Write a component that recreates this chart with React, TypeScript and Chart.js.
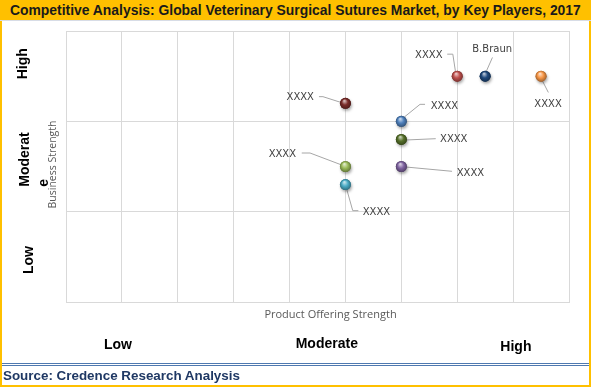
import React, { useEffect, useRef } from 'react';
import { Chart, registerables } from 'chart.js';

Chart.register(...registerables);

const TITLE = 'Competitive Analysis: Global Veterinary Surgical Sutures Market, by Key Players, 2017';
const SOURCE = 'Source: Credence Research Analysis';
const X_AXIS_TITLE = 'Product Offering Strength';
const Y_AXIS_TITLE = 'Business Strength';

const companies = ['XXXX', 'B.Braun', 'XXXX', 'XXXX', 'XXXX', 'XXXX', 'XXXX', 'XXXX', 'XXXX'];
const productOfferingStrength = [7, 7.5, 8.5, 5, 6, 6, 6, 5, 5];
const businessStrength = [2.5, 2.5, 2.5, 2.2, 2.0, 1.8, 1.5, 1.5, 1.3];
const pointColors = ['#c0504d', '#1f497d', '#f79646', '#7b2c2a', '#4f81bd', '#56702a', '#8064a2', '#9bbb59', '#4bacc6'];

const xLevelLabels = ['Low', 'Moderate', 'High'];
const yLevelLines = [['Low'], ['Moderat', 'e'], ['High']];

const X_MIN = 0, X_MAX = 9, Y_MIN = 0, Y_MAX = 3;

// label placement (pixel offsets relative to each point) and leader paths
type LabelLayout = { align: CanvasTextAlign; dx: number; dy: number; path: number[][] };
const labelLayout: LabelLayout[] = [
  { align: 'right', dx: -14.7, dy: -21, path: [[-1.7, -4.3], [-4.4, -22], [-10, -22]] },
  { align: 'center', dx: 7, dy: -27, path: [[1, -4.5], [7.3, -18.7]] },
  { align: 'center', dx: 7, dy: 28, path: [[1, 4], [7.3, 16.3]] },
  { align: 'right', dx: -31.5, dy: -5.6, path: [[-5, -1], [-22.5, -6.6], [-26.5, -6.6]] },
  { align: 'left', dx: 29.4, dy: -15.3, path: [[2, -3.5], [18.7, -17], [23.7, -17]] },
  { align: 'left', dx: 38.7, dy: 0, path: [[4.5, 0.6], [34.4, -0.7]] },
  { align: 'left', dx: 55.4, dy: 6.8, path: [[4.5, 0.5], [50.7, 4.8]] },
  { align: 'right', dx: -49.4, dy: -12.5, path: [[-5, -2], [-35.4, -13.5], [-43.7, -13.5]] },
  { align: 'left', dx: 17.3, dy: 27.7, path: [[1.5, 5.5], [7.3, 26.1], [12.9, 26.1]] },
];

function mix(hex: string, target: number, amt: number) {
  const n = parseInt(hex.slice(1), 16);
  const r = (n >> 16) & 255, g = (n >> 8) & 255, b = n & 255;
  const f = (c: number) => Math.round(c + (target - c) * amt);
  return `rgb(${f(r)},${f(g)},${f(b)})`;
}

const decorPlugin = {
  id: 'decor',
  beforeDatasetsDraw(chart: any) {
    const ctx = chart.ctx as CanvasRenderingContext2D;
    const meta = chart.getDatasetMeta(0);
    ctx.save();
    ctx.strokeStyle = '#a6a6a6';
    ctx.lineWidth = 1;
    meta.data.forEach((el: any, i: number) => {
      const lay = labelLayout[i];
      if (!lay) return;
      ctx.beginPath();
      lay.path.forEach((p, k) => {
        const px = el.x + p[0], py = el.y + p[1];
        if (k === 0) ctx.moveTo(px, py); else ctx.lineTo(px, py);
      });
      ctx.stroke();
    });
    ctx.restore();
  },
  afterDatasetsDraw(chart: any) {
    const ctx = chart.ctx as CanvasRenderingContext2D;
    const meta = chart.getDatasetMeta(0);
    meta.data.forEach((el: any, i: number) => {
      const r = 5.5;
      const c = pointColors[i];
      ctx.save();
      ctx.shadowColor = 'rgba(0,0,0,0.35)';
      ctx.shadowBlur = 3;
      ctx.shadowOffsetX = 1;
      ctx.shadowOffsetY = 2;
      const g = ctx.createRadialGradient(el.x - r * 0.2, el.y - r * 0.45, r * 0.1, el.x, el.y, r);
      g.addColorStop(0, mix(c, 255, 0.65));
      g.addColorStop(0.5, c);
      g.addColorStop(1, mix(c, 0, 0.35));
      ctx.fillStyle = g;
      ctx.beginPath();
      ctx.arc(el.x, el.y, r, 0, Math.PI * 2);
      ctx.fill();
      ctx.restore();
    });
    ctx.save();
    ctx.font = '10px "DejaVu Sans"';
    ctx.fillStyle = '#404040';
    ctx.textBaseline = 'middle';
    meta.data.forEach((el: any, i: number) => {
      const lay = labelLayout[i];
      if (!lay) return;
      ctx.textAlign = lay.align;
      ctx.fillText(companies[i], el.x + lay.dx, el.y + lay.dy);
    });
    ctx.restore();
  },
  afterDraw(chart: any) {
    const ctx = chart.ctx as CanvasRenderingContext2D;
    const area = chart.chartArea;
    ctx.save();
    // axis titles
    ctx.fillStyle = '#595959';
    ctx.font = '11px "Open Sans"';
    ctx.textAlign = 'center';
    ctx.textBaseline = 'alphabetic';
    ctx.fillText(X_AXIS_TITLE, area.left + 264.5, area.bottom + 16.3);
    ctx.save();
    ctx.font = '10.5px "Open Sans"';
    ctx.translate(area.left - 10, (area.top + area.bottom) / 2 - 2);
    ctx.rotate(-Math.PI / 2);
    ctx.fillText(Y_AXIS_TITLE, 0, 0);
    ctx.restore();

    // level labels
    ctx.fillStyle = '#000000';
    ctx.font = 'bold 14px "Liberation Sans"';
    const xPos = [117.9, 326.8, 515.9];
    const xBase = [349.3, 348.3, 350.7];
    xLevelLabels.forEach((t, i) => ctx.fillText(t, xPos[i], xBase[i]));

    const yl = [
      { lines: yLevelLines[0], xs: [33], y: 260, align: 'center' as CanvasTextAlign },
      { lines: yLevelLines[1], xs: [29, 48], y: 186.7, align: 'left' as CanvasTextAlign },
      { lines: yLevelLines[2], xs: [27], y: 63.8, align: 'center' as CanvasTextAlign },
    ];
    yl.forEach((g) => {
      g.lines.forEach((t, k) => {
        ctx.save();
        ctx.translate(g.xs[k], g.y);
        ctx.rotate(-Math.PI / 2);
        ctx.textAlign = g.align;
        ctx.fillText(t, 0, 0);
        ctx.restore();
      });
    });
    ctx.restore();
  },
};

export default function App() {
  const ref = useRef<HTMLCanvasElement>(null);
  useEffect(() => {
    if (!ref.current) return;
    const points = productOfferingStrength.map((x, i) => ({ x, y: businessStrength[i] }));
    const chart = new Chart(ref.current, {
      type: 'scatter',
      data: {
        datasets: [
          {
            label: 'Players',
            data: points,
            pointRadius: 5.5,
            pointHoverRadius: 5.5,
            pointBackgroundColor: pointColors,
            pointBorderWidth: 0,
          },
        ],
      },
      options: {
        responsive: false,
        animation: false,
        layout: { padding: { left: 66, top: 31, right: 22, bottom: 85 } },
        plugins: { legend: { display: false }, tooltip: { enabled: false }, title: { display: false } },
        scales: {
          x: {
            type: 'linear',
            min: X_MIN,
            max: X_MAX,
            ticks: { display: false, stepSize: 1 },
            grid: { color: '#d9d9d9', drawTicks: false, lineWidth: 1 },
            border: { color: '#d9d9d9' },
          },
          y: {
            type: 'linear',
            min: Y_MIN,
            max: Y_MAX,
            ticks: { display: false, stepSize: 1 },
            grid: { color: '#d9d9d9', drawTicks: false, lineWidth: 1 },
            border: { color: '#d9d9d9' },
          },
        },
      },
      plugins: [decorPlugin],
    });
    return () => chart.destroy();
  }, []);

  return (
    <div
      style={{
        position: 'absolute',
        left: 0,
        top: 0,
        width: 591,
        height: 387,
        background: '#ffffff',
        overflow: 'hidden',
      }}
    >
      <canvas ref={ref} width={591} height={387} style={{ position: 'absolute', left: 0, top: 0 }} />
      <div
        style={{
          position: 'absolute',
          left: 0,
          top: 0,
          width: 591,
          height: 21,
          background: '#ffc000',
          borderBottom: '1px solid #d7dce6',
          boxSizing: 'border-box',
        }}
      >
        <div
          style={{
            position: 'absolute',
            left: 10,
            top: 0,
            font: 'bold 13.9px "Liberation Sans"',
            lineHeight: '20px',
            color: '#1a1a1a',
            whiteSpace: 'nowrap',
          }}
        >
          {TITLE}
        </div>
      </div>
      <div style={{ position: 'absolute', left: 0, top: 21, width: 2, height: 366, background: '#ffc000' }} />
      <div style={{ position: 'absolute', left: 589, top: 21, width: 2, height: 366, background: '#ffc000' }} />
      <div style={{ position: 'absolute', left: 0, top: 385, width: 591, height: 2, background: '#ffc000' }} />
      <div
        style={{
          position: 'absolute',
          left: 2,
          top: 363,
          width: 587,
          height: 3,
          borderTop: '1px solid #4f79b0',
          borderBottom: '1px solid #4f79b0',
          boxSizing: 'border-box',
        }}
      />
      <div
        style={{
          position: 'absolute',
          left: 3,
          top: 367.5,
          font: 'bold 13.4px "Liberation Sans"',
          lineHeight: '16px',
          color: '#1f3864',
          whiteSpace: 'nowrap',
        }}
      >
        {SOURCE}
      </div>
    </div>
  );
}
